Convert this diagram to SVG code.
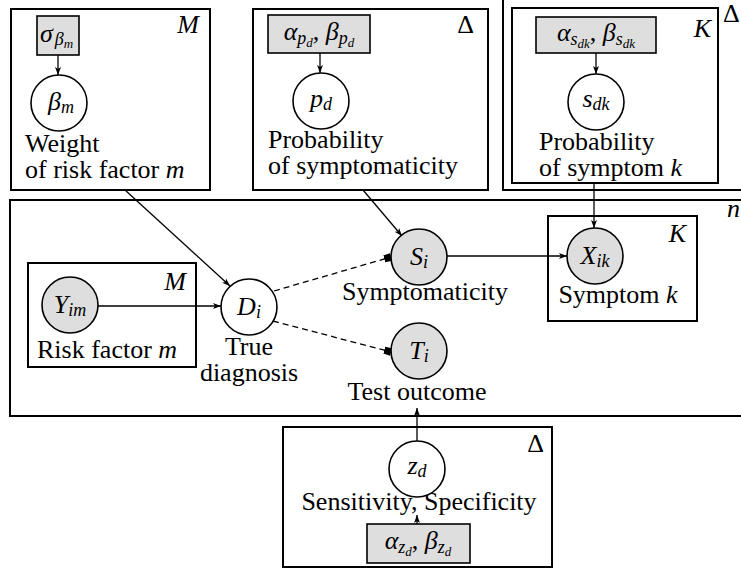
<svg xmlns="http://www.w3.org/2000/svg" width="741" height="573" viewBox="0 0 741 573">
<style>
.plate{fill:none;stroke:#000;stroke-width:2}
.lat{fill:#fff;stroke:#000;stroke-width:1.6}
.obs{fill:#dedede;stroke:#000;stroke-width:1.6}
text{font-family:'Liberation Serif','DejaVu Serif','Times New Roman',serif;font-size:26px;fill:#000}
.m{font-style:italic}
.s{font-size:18px}
.ss{font-size:13px}
.edge{stroke:#000;stroke-width:1.3;fill:none}
.dash{stroke-dasharray:6 4}
</style>
<defs>
<marker id="arr" markerUnits="userSpaceOnUse" markerWidth="9" markerHeight="7" refX="8" refY="3.5" orient="auto">
<path d="M0,0.5 L8,3.5 L0,6.5 L2,3.5 z" fill="#000"/>
</marker>
<marker id="blk" markerUnits="userSpaceOnUse" markerWidth="9" markerHeight="9" refX="7" refY="4.5" orient="auto">
<path d="M0,1 L7,0.5 L7,8.5 L0,8 z" fill="#000"/>
</marker>
</defs>

<!-- plates -->
<g id="plate-weight">
<rect class="plate" x="11" y="9" width="199" height="181"/>
<text class="m" x="199" y="33" text-anchor="end">M</text>
<text x="25" y="152">Weight</text>
<text x="25" y="178">of risk factor <tspan class="m">m</tspan></text>
</g>
<g id="plate-symptomaticity">
<rect class="plate" x="253" y="9" width="235" height="181"/>
<text x="474" y="33" text-anchor="end">Δ</text>
<text x="268" y="148">Probability</text>
<text x="268" y="174">of symptomaticity</text>
</g>
<g id="plate-symptom-outer">
<rect class="plate" x="503" y="-5" width="260" height="195"/>
<text x="723" y="22" font-size="24">Δ</text>
</g>
<g id="plate-symptom-inner">
<rect class="plate" x="512" y="8" width="206" height="175"/>
<text class="m" x="711" y="37" text-anchor="end">K</text>
<text x="539" y="150">Probability</text>
<text x="539" y="176">of symptom <tspan class="m">k</tspan></text>
</g>
<g id="plate-n">
<rect class="plate" x="10" y="200" width="760" height="216"/>
<text class="m" x="727" y="217">n</text>
</g>
<g id="plate-risk">
<rect class="plate" x="28" y="263" width="168" height="104"/>
<text class="m" x="186" y="290" text-anchor="end">M</text>
<text x="37" y="358">Risk factor <tspan class="m">m</tspan></text>
</g>
<g id="plate-symptom-k">
<rect class="plate" x="548" y="216" width="149" height="105"/>
<text class="m" x="686" y="242" text-anchor="end">K</text>
<text x="618" y="303" text-anchor="middle">Symptom <tspan class="m">k</tspan></text>
</g>
<g id="plate-test">
<rect class="plate" x="283" y="427" width="269" height="140"/>
<text x="544" y="452" text-anchor="end">Δ</text>
<text x="419" y="510" text-anchor="middle">Sensitivity, Specificity</text>
</g>

<!-- connectors -->
<g id="connectors">
<line class="edge" x1="58" y1="55" x2="58" y2="75" marker-end="url(#arr)"/>
<line class="edge" x1="320" y1="53" x2="320" y2="73" marker-end="url(#arr)"/>
<line class="edge" x1="596" y1="53" x2="596" y2="74" marker-end="url(#arr)"/>
<line class="edge" x1="125" y1="190" x2="230" y2="286" marker-end="url(#arr)"/>
<line class="edge" x1="363" y1="190" x2="402" y2="236" marker-end="url(#arr)"/>
<line class="edge" x1="594" y1="183" x2="594" y2="228" marker-end="url(#arr)"/>
<line class="edge" x1="98" y1="306" x2="221" y2="306" marker-end="url(#arr)"/>
<line class="edge dash" x1="274" y1="291" x2="391" y2="257" marker-end="url(#blk)"/>
<line class="edge dash" x1="273" y1="321" x2="391" y2="352" marker-end="url(#blk)"/>
<line class="edge" x1="447" y1="256" x2="567" y2="256" marker-end="url(#arr)"/>
<line class="edge" x1="417" y1="442" x2="417" y2="408" marker-end="url(#arr)"/>
<line class="edge" x1="417" y1="524" x2="417" y2="515" marker-end="url(#arr)"/>
</g>

<!-- nodes -->
<g id="sigma-beta">
<rect class="obs" x="37" y="16" width="42" height="39"/>
<text x="40" y="42"><tspan class="m">σ</tspan><tspan class="s m" dx="2" dy="3">β</tspan><tspan class="ss m" dy="3">m</tspan></text>
</g>
<g id="beta-m">
<circle class="lat" cx="59" cy="103" r="28"/>
<text class="m" x="61" y="110" text-anchor="middle">β<tspan class="s" dy="3">m</tspan></text>
</g>
<g id="alpha-beta-p">
<rect class="obs" x="268" y="15" width="102" height="38"/>
<text class="m" x="319" y="40" text-anchor="middle">α<tspan class="s" dy="4">p</tspan><tspan class="ss" dy="3">d</tspan><tspan dy="-7" font-style="normal">, </tspan>β<tspan class="s" dy="4">p</tspan><tspan class="ss" dy="3">d</tspan></text>
</g>
<g id="p-d">
<circle class="lat" cx="321" cy="101" r="28"/>
<text class="m" x="321" y="107" text-anchor="middle">p<tspan class="s" dy="3">d</tspan></text>
</g>
<g id="alpha-beta-s">
<rect class="obs" x="536" y="17" width="120" height="36"/>
<text class="m" x="596" y="41" text-anchor="middle">α<tspan class="s" dy="4">s</tspan><tspan class="ss" dy="3">dk</tspan><tspan dy="-7" font-style="normal">, </tspan>β<tspan class="s" dy="4">s</tspan><tspan class="ss" dy="3">dk</tspan></text>
</g>
<g id="s-dk">
<circle class="lat" cx="596" cy="102" r="28"/>
<text class="m" x="596" y="107" text-anchor="middle">s<tspan class="s" dy="3">dk</tspan></text>
</g>
<g id="Y-im">
<circle class="obs" cx="70" cy="305" r="28"/>
<text class="m" x="70" y="313" text-anchor="middle">Y<tspan class="s" dy="3">im</tspan></text>
</g>
<g id="D-i">
<circle class="lat" cx="249" cy="307" r="28"/>
<text class="m" x="249" y="315" text-anchor="middle">D<tspan class="s" dy="3">i</tspan></text>
<text x="249" y="355" text-anchor="middle">True</text>
<text x="249" y="381" text-anchor="middle">diagnosis</text>
</g>
<g id="S-i">
<circle class="obs" cx="419" cy="257" r="28"/>
<text class="m" x="419" y="265" text-anchor="middle">S<tspan class="s" dy="3">i</tspan></text>
<text x="425" y="300" text-anchor="middle">Symptomaticity</text>
</g>
<g id="X-ik">
<circle class="obs" cx="595" cy="256" r="28"/>
<text class="m" x="595" y="264" text-anchor="middle">X<tspan class="s" dy="3">ik</tspan></text>
</g>
<g id="T-i">
<circle class="obs" cx="419" cy="351" r="28"/>
<text class="m" x="419" y="359" text-anchor="middle">T<tspan class="s" dy="3">i</tspan></text>
<text x="417" y="400" text-anchor="middle">Test outcome</text>
</g>
<g id="z-d">
<circle class="lat" cx="417" cy="469" r="28"/>
<text class="m" x="417" y="474" text-anchor="middle">z<tspan class="s" dy="3">d</tspan></text>
</g>
<g id="alpha-beta-z">
<rect class="obs" x="367" y="524" width="103" height="39"/>
<text class="m" x="418" y="549" text-anchor="middle">α<tspan class="s" dy="4">z</tspan><tspan class="ss" dy="3">d</tspan><tspan dy="-7" font-style="normal">, </tspan>β<tspan class="s" dy="4">z</tspan><tspan class="ss" dy="3">d</tspan></text>
</g>
</svg>
